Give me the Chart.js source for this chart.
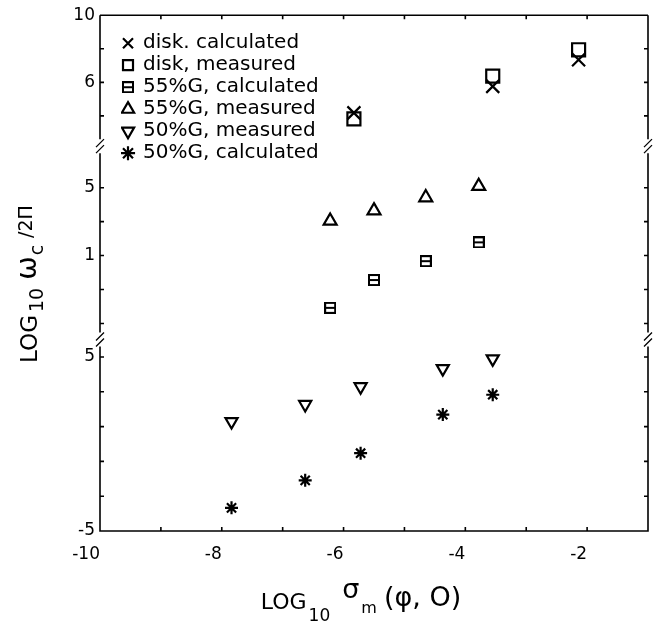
<!DOCTYPE html>
<html>
<head>
<meta charset="utf-8">
<script src="https://cdn.jsdelivr.net/npm/chart.js@4/dist/chart.umd.min.js"></script>
<style>
html, body { margin: 0; padding: 0; background: #fff; }
</style>
</head>
<body>
<canvas id="chart" width="661" height="624"></canvas>
<script>
"use strict";

// x: LOG10 sigma_m, y: LOG10 omega_c/2PI (y axis broken in three parts)
var diskX = [-5.83, -3.55, -2.14];
var diskCalc = [4.18, 5.76, 7.35];
var diskMeas = [3.82, 6.37, 7.94];

var g55X = [-6.22, -5.50, -4.65, -3.78];
var g55Calc = [-2.08, -0.44, 0.67, 1.78];
var g55Meas = [3.04, 3.65, 4.42, 5.09];

var g50X = [-7.84, -6.63, -5.72, -4.37, -3.55];
var g50Meas = [1.29, 2.27, 3.29, 4.33, 4.89];
var g50Calc = [-3.67, -2.09, -0.53, 1.69, 2.83];

var seriesNames = ["disk. calculated", "disk, measured", "55%G, calculated",
                   "55%G, measured", "50%G, measured", "50%G, calculated"];

var xTicks = [-10, -9, -8, -7, -6, -5, -4, -3, -2, -1];
var xLabels = [-10, -8, -6, -4, -2];
var yTopTicks = [4, 6, 8, 10];
var yTopLabels = [6, 10];
var yMidTicks = [-3, -1, 1, 3, 5];
var yMidLabels = [1, 5];
var yBotTicks = [-5, -3, -1, 1, 3, 5];
var yBotLabels = [-5, 5];

// axis titles, written as runs so the subscripts can sit low
var xTitle = [
  {text: "LOG", size: 22},
  {text: "10", size: 17, dy: 12, gap: 2},
  {text: "σ", size: 27, dy: -11, gap: 12},
  {text: "m", size: 16, dy: 4, gap: 2},
  {text: "(φ, O)", size: 27, dy: -3, gap: 7}
];
var yTitle = [
  {text: "LOG", size: 23},
  {text: "10", size: 19, dy: 6, gap: 3},
  {text: "ω", size: 28, dy: -1, gap: 8},
  {text: "c", size: 19, dy: 6, gap: 1},
  {text: "/2Π", size: 19, dy: -5, gap: 7}
];

Chart.defaults.font.family = "'DejaVu Sans', sans-serif";
Chart.defaults.color = "#000";

function pts(xs, ys) {
  return xs.map(function(x, i) { return {x: x, y: ys[i]}; });
}

function onlyTicks(list) {
  return function(scale) {
    scale.ticks = list.map(function(v) { return {value: v}; });
  };
}

function labelIf(list) {
  return function(value) {
    return list.indexOf(value) >= 0 ? String(value) : "";
  };
}

// square with a bar through it, for 55%G calculated
function barBox(size) {
  var c = document.createElement("canvas");
  c.width = size;
  c.height = size;
  var g = c.getContext("2d");
  g.strokeStyle = "#000";
  g.lineWidth = 2;
  g.strokeRect(1, 1, size - 2, size - 2);
  g.beginPath();
  g.moveTo(1, size / 2);
  g.lineTo(size - 1, size / 2);
  g.stroke();
  return c;
}

function yScale(min, max, ticks, labels, weight) {
  return {
    type: "linear",
    position: "left",
    stack: "y",
    stackWeight: weight,
    min: min,
    max: max,
    afterBuildTicks: onlyTicks(ticks),
    afterFit: function(s) { s.width = 100; },
    grid: {display: false, drawTicks: false},
    border: {display: false},
    ticks: {font: {size: 17}, padding: 5, autoSkip: false, callback: labelIf(labels)}
  };
}

function drawRuns(ctx, runs, cx, baseY) {
  var total = 0;
  runs.forEach(function(r) {
    ctx.font = r.size + "px 'DejaVu Sans'";
    r.w = ctx.measureText(r.text).width;
    total += (r.gap || 0) + r.w;
  });
  var x = cx - total / 2;
  runs.forEach(function(r) {
    x += r.gap || 0;
    ctx.font = r.size + "px 'DejaVu Sans'";
    ctx.fillText(r.text, x, baseY + (r.dy || 0));
    x += r.w;
  });
}

var frame = {
  id: "frame",
  afterLayout: function(chart) {
    // put the legend box in the upper left of the plot
    var a = chart.chartArea, lg = chart.legend;
    lg.left = a.left + 21;
    lg.top = a.top + 16;
    lg.right = a.right;
    lg.bottom = a.bottom;
  },
  beforeDatasetsDraw: function(chart) {
    var ctx = chart.ctx, a = chart.chartArea;
    var sx = chart.scales.x;
    var ys = [chart.scales.yTop, chart.scales.yMid, chart.scales.yBot];
    var gap = 7, tl = 4;
    ctx.save();
    ctx.strokeStyle = "#000";
    ctx.lineWidth = 1.6;
    ctx.beginPath();
    ctx.moveTo(a.left, a.top);
    ctx.lineTo(a.right, a.top);
    ctx.moveTo(a.left - 0.8, a.bottom);
    ctx.lineTo(a.right + 0.8, a.bottom);
    ys.forEach(function(s, i) {
      var t = s.top + (i > 0 ? gap : 0);
      var b = s.bottom - (i < ys.length - 1 ? gap : 0);
      [a.left, a.right].forEach(function(x) {
        ctx.moveTo(x, t);
        ctx.lineTo(x, b);
      });
      s.ticks.forEach(function(tk) {
        var py = s.getPixelForValue(tk.value);
        ctx.moveTo(a.left, py);
        ctx.lineTo(a.left + tl, py);
        ctx.moveTo(a.right, py);
        ctx.lineTo(a.right - tl, py);
      });
    });
    sx.ticks.forEach(function(tk) {
      var px = sx.getPixelForValue(tk.value);
      ctx.moveTo(px, a.bottom);
      ctx.lineTo(px, a.bottom - tl);
      ctx.moveTo(px, a.top);
      ctx.lineTo(px, a.top + tl);
    });
    ctx.stroke();

    // break marks
    ctx.lineWidth = 1.3;
    ctx.beginPath();
    [ys[0].bottom, ys[1].bottom].forEach(function(yb) {
      [a.left, a.right].forEach(function(x) {
        [-3, 3].forEach(function(k) {
          ctx.moveTo(x - 4, yb + k + 4);
          ctx.lineTo(x + 4, yb + k - 4);
        });
      });
    });
    ctx.stroke();

    // axis titles
    ctx.fillStyle = "#000";
    ctx.textBaseline = "alphabetic";
    ctx.textAlign = "left";
    drawRuns(ctx, xTitle, 361, 609);
    ctx.translate(37, 284);
    ctx.rotate(-Math.PI / 2);
    drawRuns(ctx, yTitle, 0, 0);
    ctx.restore();
  }
};

var common = {
  showLine: false,
  borderColor: "#000",
  backgroundColor: "rgba(0,0,0,0)",
  borderWidth: 2.2,
  pointBorderWidth: 2.2,
  pointHoverRadius: 0
};

function series(label, xs, ys, style, radius, yAxisID, rotation) {
  return Object.assign({}, common, {
    label: label,
    data: pts(xs, ys),
    pointStyle: style,
    pointRadius: radius,
    pointRotation: rotation || 0,
    yAxisID: yAxisID
  });
}

var chart = new Chart("chart", {
  type: "scatter",
  data: {
    datasets: [
      series(seriesNames[0], diskX, diskCalc, "crossRot", 9.2, "yTop"),
      series(seriesNames[1], diskX, diskMeas, "rect", 9.2, "yTop"),
      series(seriesNames[2], g55X, g55Calc, barBox(12), 6, "yMid"),
      series(seriesNames[3], g55X, g55Meas, "triangle", 7.5, "yMid"),
      series(seriesNames[4], g50X, g50Meas, "triangle", 7, "yBot", 180),
      series(seriesNames[5], g50X, g50Calc, "star", 6.5, "yBot")
    ]
  },
  options: {
    responsive: false,
    animation: false,
    events: [],
    layout: {padding: {top: 11, right: 10, left: 0, bottom: 0}},
    plugins: {
      legend: {
        position: "chartArea",
        align: "start",
        labels: {
          usePointStyle: true,
          boxWidth: 10,
          boxHeight: 10,
          padding: 2,
          color: "#000",
          font: {size: 20}
        }
      },
      tooltip: {enabled: false}
    },
    scales: {
      x: {
        type: "linear",
        position: "bottom",
        min: -10,
        max: -1,
        afterBuildTicks: onlyTicks(xTicks),
        afterFit: function(s) { s.height = 93; },
        grid: {display: false, drawTicks: false},
        border: {display: false},
        ticks: {font: {size: 17}, padding: 13, align: "end", maxRotation: 0,
                autoSkip: false, callback: labelIf(xLabels)}
      },
      yBot: yScale(-5, 6, yBotTicks, yBotLabels, 193),
      yMid: yScale(-3.95, 7.45, yMidTicks, yMidLabels, 195),
      yTop: yScale(2.2, 10, yTopTicks, yTopLabels, 132)
    }
  },
  plugins: [frame]
});
</script>
</body>
</html>
